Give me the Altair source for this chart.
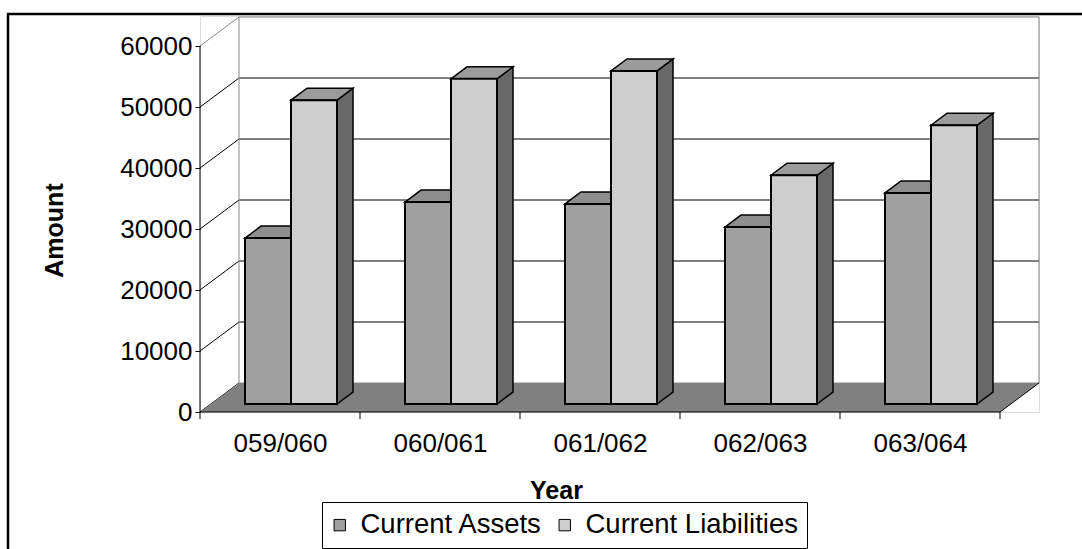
import json

import altair as alt
import pandas as pd

# ---- data -------------------------------------------------------------
years = ["059/060", "060/061", "061/062", "062/063", "063/064"]
current_assets = [27200, 33100, 32800, 29000, 34600]
current_liabilities = [49800, 53300, 54600, 37500, 45700]
series_names = ["Current Assets", "Current Liabilities"]
amount_ticks = [0, 10000, 20000, 30000, 40000, 50000, 60000]

# ---- colours ----------------------------------------------------------
FRONT = ["#a0a0a0", "#cecece"]
TOP = ["#8e8e8e", "#9b9b9b"]
SIDE = "#686868"
FLOOR = "#808080"
WALL_LINE = "#8a8a8a"
FONT = "Liberation Sans"

# ---- oblique 3-D projection (pixel sizes) -----------------------------
CAT_PX = 160                 # width of one category on the front axis
PX_PER_UNIT = 61 / 10000     # pixels per amount unit
WALL_DX, WALL_DY = 39, 29    # depth of the back wall
BAR_DX0, BAR_DY0 = 11, 8     # bars sit this far behind the front axis
BAR_DX, BAR_DY = 16, 12      # depth of each bar
BAR_W = 46

n = len(years)
W = n * CAT_PX + WALL_DX
H = 396
X_MAX = W / CAT_PX
Y_MAX = H / PX_PER_UNIT


def ux(px):
    return px / CAT_PX


def uy(px):
    return px / PX_PER_UNIT


x_scale = alt.Scale(domain=[0, X_MAX], nice=False, zero=False)
y_scale = alt.Scale(domain=[0, Y_MAX], nice=False, zero=False)

# ---- walls and gridlines ----------------------------------------------
top_val = amount_ticks[-1]
wall_rows = []
for v in amount_ticks:
    c = "black" if 0 < v < top_val else WALL_LINE
    wall_rows.append(dict(x=ux(WALL_DX), y=v + uy(WALL_DY), x2=X_MAX, y2=v + uy(WALL_DY), c=c))
    wall_rows.append(dict(x=0.0, y=v, x2=ux(WALL_DX), y2=v + uy(WALL_DY),
                          c=WALL_LINE if v == top_val else "black"))
for xe in (ux(WALL_DX), X_MAX):
    wall_rows.append(dict(x=xe, y=uy(WALL_DY), x2=xe, y2=top_val + uy(WALL_DY), c=WALL_LINE))
walls = pd.DataFrame(wall_rows)

floor = pd.DataFrame(dict(
    x=[0.0, ux(WALL_DX), float(n), X_MAX],
    y=[0.0, uy(WALL_DY), uy(WALL_DY), uy(WALL_DY)],
    y2=[0.0, 0.0, 0.0, uy(WALL_DY)],
))

edge_rows = [
    dict(x=float(n), y=0.0, x2=X_MAX, y2=uy(WALL_DY)),   # floor right edge
    dict(x=0.0, y=0.0, x2=float(n), y2=0.0),              # category axis line
]
edges = pd.DataFrame(edge_rows)

# vertical strokes: amount axis line and category ticks
vrules = pd.DataFrame(
    [dict(x=0.0, y=0.0, y2=float(top_val))]
    + [dict(x=float(i), y=0.0, y2=-uy(7)) for i in range(n + 1)]
)

# ---- bars -------------------------------------------------------------
values = [current_assets, current_liabilities]
fronts, tops, sides = [], [], []
for i, yr in enumerate(years):
    for s, vals in enumerate(values):
        v = vals[i]
        x0 = i + 0.5 + ux(BAR_DX0 - BAR_W + s * BAR_W)
        x1 = x0 + ux(BAR_W)
        base = uy(BAR_DY0)
        t = base + v
        dx, dy = ux(BAR_DX), uy(BAR_DY)
        bid = f"{i}-{s}"
        fronts.append(dict(year=yr, series=series_names[s], amount=v,
                           x=x0, x2=x1, y=base, y2=t))
        for xx, a, b in [(x0, t, t), (x0 + dx, t + dy, t), (x1, t + dy, t), (x1 + dx, t + dy, t + dy)]:
            tops.append(dict(id=bid, x=xx, y=a, y2=b, c=TOP[s]))
        for xx, a, b in [(x1, t, base), (x1 + dx, t + dy, base + dy)]:
            sides.append(dict(id=bid, x=xx, y=a, y2=b, c=SIDE))
fronts = pd.DataFrame(fronts)
tops = pd.DataFrame(tops)
sides = pd.DataFrame(sides)

# ---- axes (same spec on every layer so they merge cleanly) -----------
label_expr = json.dumps(years) + "[floor(datum.value)]"

x_axis = alt.Axis(
    values=[i + 0.5 for i in range(n)], labelExpr=label_expr, tickSize=0,
    domain=False, grid=False, labelFontSize=26, labelFont=FONT, labelColor="black",
    labelPadding=18, labelFlush=False,
    title="Year", titleX=356, titleY=86, titleBaseline="alphabetic", titleAlign="center",
    titleFontSize=25, titleFont=FONT, titleFontWeight="bold", titleColor="black",
)
y_axis = alt.Axis(
    values=amount_ticks, format="d", tickSize=5, tickColor="black", domain=False,
    grid=False, labelFontSize=26, labelFont=FONT, labelColor="black", labelPadding=3,
    labelFlush=False,
    title="Amount", titleX=-138, titleY=214, titleAngle=270, titleAlign="center",
    titleBaseline="alphabetic", titleFontSize=25, titleFont=FONT,
    titleFontWeight="bold", titleColor="black",
)


def X(field="x"):
    return alt.X(f"{field}:Q", scale=x_scale, axis=x_axis)


def Y(field="y"):
    return alt.Y(f"{field}:Q", scale=y_scale, axis=y_axis, stack=False)


# ---- layers -----------------------------------------------------------
frame = alt.Chart(pd.DataFrame({"k": [0]})).mark_rect(
    filled=False, color="black", strokeWidth=2.5
).encode(
    x=alt.value(-192), x2=alt.value(1000), y=alt.value(-2), y2=alt.value(700)
)

wall_layer = alt.Chart(walls).mark_rule(strokeWidth=1).encode(
    x=X(), y=Y(), x2="x2:Q", y2="y2:Q",
    color=alt.Color("c:N", scale=None),
)

floor_layer = alt.Chart(floor).mark_area(color=FLOOR, orient="vertical").encode(
    x=X(), y=Y(), y2="y2:Q",
)

edge_layer = alt.Chart(edges).mark_rule(color="black", strokeWidth=1).encode(
    x=X(), y=Y(), x2="x2:Q", y2="y2:Q",
)

vrule_layer = alt.Chart(vrules).mark_rule(color="black", strokeWidth=1).encode(
    x=X(), y=Y(), y2="y2:Q",
)

side_layer = alt.Chart(sides).mark_area(
    orient="vertical", stroke="black", strokeWidth=1.5, strokeJoin="miter"
).encode(
    x=X(), y=Y(), y2="y2:Q",
    detail="id:N",
    fill=alt.Fill("c:N", scale=None),
)

top_layer = alt.Chart(tops).mark_area(
    orient="vertical", stroke="black", strokeWidth=1.5, strokeJoin="miter"
).encode(
    x=X(), y=Y(), y2="y2:Q",
    detail="id:N",
    fill=alt.Fill("c:N", scale=None),
)

front_layer = alt.Chart(fronts).mark_rect(stroke="black", strokeWidth=2).encode(
    x=X(), x2="x2:Q", y=Y(), y2="y2:Q",
    fill=alt.Fill(
        "series:N",
        scale=alt.Scale(domain=series_names, range=FRONT),
        legend=alt.Legend(
            orient="none", legendX=122, legendY=486, direction="horizontal",
            title=None, symbolType="square", symbolSize=130, symbolOffset=-5,
            symbolStrokeColor="black", symbolStrokeWidth=1,
            labelFontSize=27.5, labelFont=FONT, labelColor="black", labelLimit=500,
            labelOffset=7, columnPadding=13, padding=9,
            strokeColor="black", fillColor="white",
        ),
    ),
)

chart = alt.layer(
    frame, wall_layer, floor_layer, edge_layer, vrule_layer,
    side_layer, top_layer, front_layer,
).properties(
    width=W, height=H,
    autosize=alt.AutoSizeParams(type="none"),
    padding={"left": 200, "top": 16, "right": 1082 - 200 - W, "bottom": 549 - 16 - H},
).configure_view(stroke=None).configure(background="white", font=FONT)

chart.save("out.html", embed_options={"renderer": "svg", "actions": False})
